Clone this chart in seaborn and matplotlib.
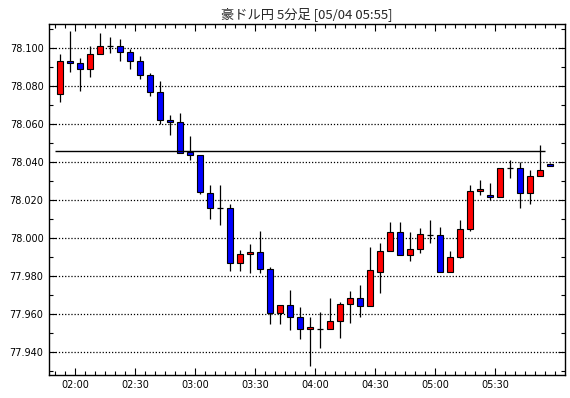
import numpy as np
import pandas as pd
import seaborn as sns
import matplotlib.pyplot as plt
from matplotlib.ticker import MultipleLocator, FuncFormatter

# 豪ドル円 5分足, 01:50 - 05:55
opens = [78.0758, 78.0932, 78.0923, 78.0888, 78.0968, 78.1011, 78.1011, 78.0979, 78.0932, 78.0858,
         78.0768, 78.0621, 78.0611, 78.0451, 78.0437, 78.0237, 78.0158, 78.0158, 77.9868, 77.9916,
         77.9926, 77.9837, 77.9605, 77.9647, 77.9584, 77.9520, 77.9521, 77.9521, 77.9563, 77.9653,
         77.9684, 77.9642, 77.9821, 77.9932, 78.0032, 77.9911, 77.9942, 78.0019, 78.0019, 77.9821,
         77.9899, 78.0050, 78.0249, 78.0228, 78.0217, 78.0369, 78.0369, 78.0238, 78.0327, 78.0390]
highs = [78.0970, 78.1091, 78.0947, 78.1012, 78.1082, 78.1061, 78.1049, 78.0998, 78.0960, 78.0870,
         78.0828, 78.0649, 78.0660, 78.0539, 78.0437, 78.0281, 78.0281, 78.0179, 77.9939, 77.9970,
         78.0039, 77.9849, 77.9647, 77.9726, 77.9640, 77.9586, 77.9611, 77.9686, 77.9663, 77.9723,
         77.9753, 77.9953, 77.9974, 78.0086, 78.0086, 78.0032, 78.0053, 78.0094, 78.0061, 77.9930,
         78.0094, 78.0280, 78.0306, 78.0290, 78.0369, 78.0412, 78.0400, 78.0358, 78.0490, 78.0395]
lows = [78.0719, 78.0877, 78.0777, 78.0846, 78.0968, 78.0977, 78.0935, 78.0888, 78.0837, 78.0746,
        78.0600, 78.0544, 78.0446, 78.0414, 78.0235, 78.0103, 78.0067, 77.9825, 77.9825, 77.9816,
        77.9816, 77.9547, 77.9547, 77.9514, 77.9470, 77.9326, 77.9421, 77.9521, 77.9474, 77.9551,
        77.9584, 77.9642, 77.9711, 77.9932, 77.9911, 77.9882, 77.9920, 77.9972, 77.9821, 77.9821,
        77.9894, 78.0040, 78.0228, 78.0200, 78.0217, 78.0317, 78.0160, 78.0181, 78.0327, 78.0379]
closes = [78.0932, 78.0921, 78.0888, 78.0970, 78.1011, 78.1011, 78.0979, 78.0930, 78.0858, 78.0768,
          78.0621, 78.0611, 78.0446, 78.0437, 78.0242, 78.0158, 78.0158, 77.9868, 77.9916, 77.9926,
          77.9837, 77.9605, 77.9647, 77.9584, 77.9520, 77.9532, 77.9521, 77.9563, 77.9653, 77.9684,
          77.9642, 77.9832, 77.9932, 78.0032, 77.9911, 77.9942, 78.0020, 78.0019, 77.9821, 77.9899,
          78.0050, 78.0249, 78.0259, 78.0217, 78.0369, 78.0369, 78.0238, 78.0327, 78.0358, 78.0379]
ref_level = 78.0458
tick_labels = ['02:00', '02:30', '03:00', '03:30', '04:00', '04:30', '05:00', '05:30']

times = pd.date_range('2012-05-04 01:50', periods=len(opens), freq='5min')
df = pd.DataFrame({'open': opens, 'high': highs, 'low': lows, 'close': closes}, index=times)
# minutes since midnight, candle drawn in the middle of its 5 min slot
df['t'] = df.index.hour * 60 + df.index.minute + 2.5
df['color'] = np.where(df['close'] > df['open'], '#ff0000',
                       np.where(df['close'] < df['open'], '#0000ff', 'black'))

sns.set_theme(style='white')
plt.rcParams['font.family'] = ['DejaVu Sans']

fig = plt.figure(figsize=(5.7, 3.98), dpi=100)
ax = fig.add_axes([0.086, 0.058, 0.905, 0.882])

ax.vlines(df['t'], df['low'], df['high'], color='black', linewidth=0.9, zorder=2)
body = df[df['open'] != df['close']]
ax.bar(body['t'], body['close'] - body['open'], bottom=body['open'], width=3,
       color=body['color'], edgecolor='black', linewidth=0.8, zorder=3)
doji = df[df['open'] == df['close']]
ax.hlines(doji['close'], doji['t'] - 1.5, doji['t'] + 1.5, color='black', linewidth=0.9, zorder=3)

ax.hlines(ref_level, df['t'].iloc[0] - 2.5, df['t'].iloc[-1] - 2.5, color='black', linewidth=1, zorder=4)

ax.set_xlim(106.85, 364.9)
ax.set_ylim(77.928, 78.1128)

ax.set_xticks([120 + 30 * i for i in range(len(tick_labels))])
ax.set_xticklabels(tick_labels)
ax.xaxis.set_minor_locator(MultipleLocator(5))
ax.yaxis.set_major_locator(MultipleLocator(0.02))
ax.yaxis.set_minor_locator(MultipleLocator(0.01))
ax.yaxis.set_major_formatter(FuncFormatter(lambda v, p: '%.3f' % v))

ax.grid(axis='y', which='major', color='black', linestyle=(0, (1, 1.5)), linewidth=0.9)
ax.tick_params(which='both', direction='in', top=True, right=True, bottom=True, left=True,
               color='black', labelsize=7, labelcolor='black', width=0.8)
ax.tick_params(which='major', length=5, pad=4)
ax.tick_params(which='minor', length=3)
for s in ax.spines.values():
    s.set_color('black')
    s.set_linewidth(1)

ax.set_title('豪ドル円 5分足 [05/04 05:55]', fontsize=9.5, pad=4,
             family=['Noto Sans CJK JP', 'DejaVu Sans'])

fig.savefig('out.png', dpi=100, facecolor='white')
